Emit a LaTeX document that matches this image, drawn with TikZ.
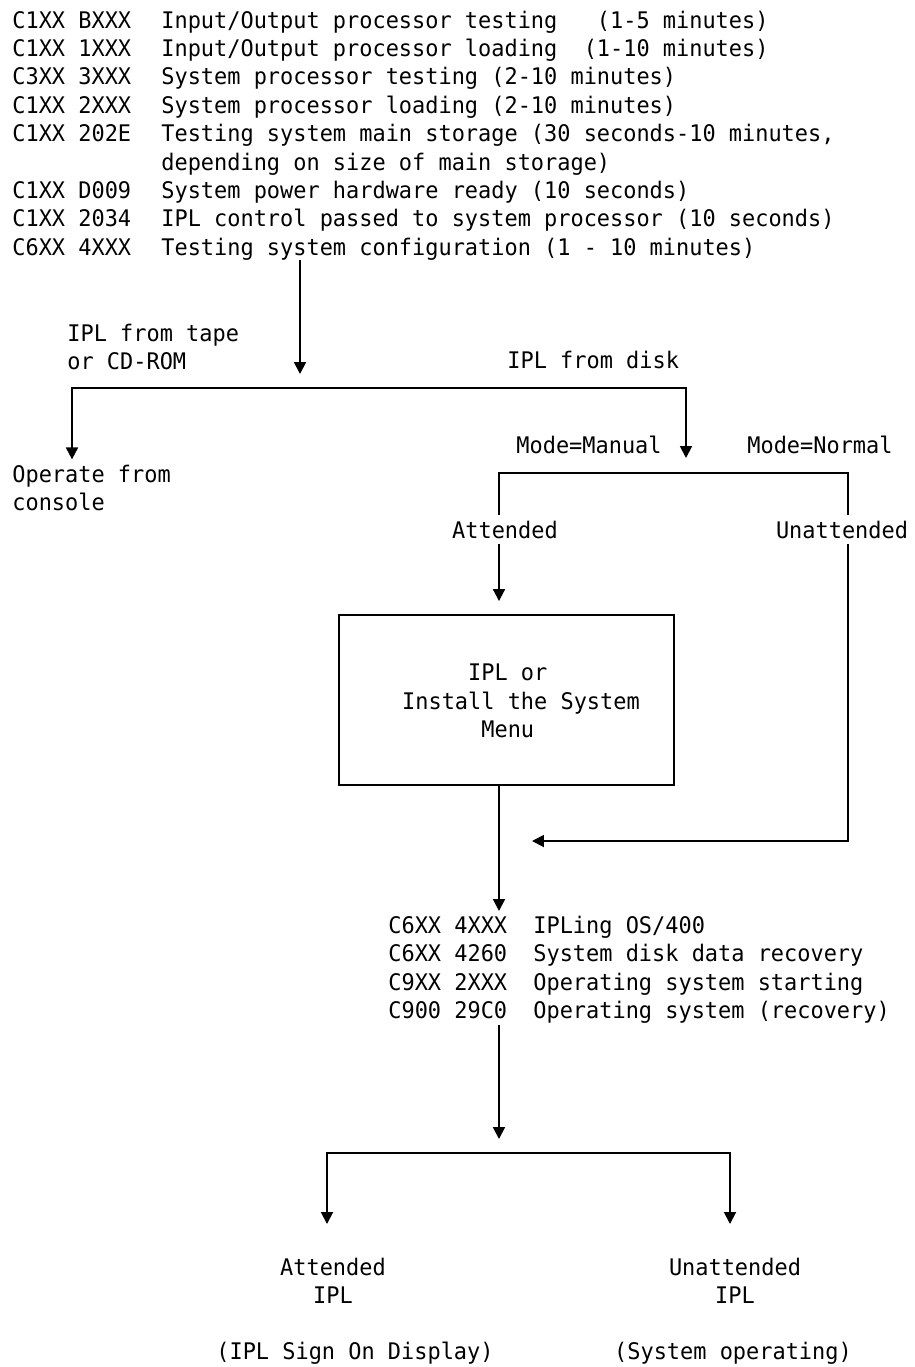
\documentclass[tikz,border=0pt]{standalone}
\usepackage{fontspec}
\newfontfamily\ibmmono[FakeStretch=0.96]{DejaVu Sans Mono}
\usetikzlibrary{arrows.meta}

\tikzset{
  lbl/.style={font=\ibmmono\fontsize{13pt}{16.1pt}\selectfont, inner sep=0pt},
  wire/.style={line width=1.1pt},
  arr/.style={wire, -{Triangle[length=6.8pt,width=6.8pt]}},
  fork/.style={wire, {Triangle[length=6.8pt,width=6.8pt]}-{Triangle[length=6.8pt,width=6.8pt]}},
}

\begin{document}
\begin{tikzpicture}[x=0.02cm,y=-0.02cm]
\fill[white] (0,0) rectangle (914,1367);
\useasboundingbox (0,0) rectangle (914,1367);

% power-on reference codes
\foreach \row/\code/\what in {
  0/C1XX BXXX/{Input/Output processor testing~~~(1-5 minutes)},
  1/C1XX 1XXX/{Input/Output processor loading~~(1-10 minutes)},
  2/C3XX 3XXX/{System processor testing (2-10 minutes)},
  3/C1XX 2XXX/{System processor loading (2-10 minutes)},
  4/C1XX 202E/{Testing system main storage (30 seconds-10 minutes,},
  6/C1XX D009/{System power hardware ready (10 seconds)},
  7/C1XX 2034/{IPL control passed to system processor (10 seconds)},
  8/C6XX 4XXX/{Testing system configuration (1 - 10 minutes)}}{
  \node[lbl,anchor=base west] (code\row) at (12,28+28.4*\row) {\code};
  \node[lbl,anchor=base west] (desc\row) at (161,28+28.4*\row) {\what};
}
\node[lbl,anchor=base west] (desc5) at (161,28+28.4*5) {depending on size of main storage)};

\node[lbl,align=left,anchor=west] (tape) at (67,347) {IPL from tape\\or CD-ROM};
\node[lbl,anchor=base west] (disk) at (507,368) {IPL from disk};
\node[lbl,align=left,anchor=west] (operate) at (12,488) {Operate from\\console};
\node[lbl,anchor=base east] (manual) at (662,453) {Mode=Manual};
\node[lbl,anchor=base west] (normal) at (747,453) {Mode=Normal};
\node[lbl,anchor=base,inner sep=3pt] (att) at (505,538) {Attended};
\node[lbl,anchor=base,inner sep=3pt] (unatt) at (842,538) {Unattended};

\node[draw,wire,minimum width=6.7cm,minimum height=3.4cm] (menu) at (506.5,700) {};
\node[lbl,align=left] (menutext) at (521,701) {~~~~~IPL or\\Install the System\\~~~~~~Menu};

% operating system codes
\foreach \row/\code/\what in {
  0/C6XX 4XXX/{IPLing OS/400},
  1/C6XX 4260/{System disk data recovery},
  2/C9XX 2XXX/{Operating system starting},
  3/C900 29C0/{Operating system (recovery)}}{
  \node[lbl,anchor=base west] (oscode\row) at (388,933+28.6*\row) {\code};
  \node[lbl,anchor=base west] (osdesc\row) at (533,933+28.6*\row) {\what};
}

\node[lbl,align=center] (attipl) at (333,1281) {Attended\\IPL};
\node[lbl,align=center] (unattipl) at (735,1281) {Unattended\\IPL};
\node[lbl,anchor=base] (signon) at (355,1359) {(IPL Sign On Display)};
\node[lbl,anchor=base] (sysop) at (733,1359) {(System operating)};

\coordinate (cfgtip) at (300,374);
\coordinate (forkL) at (72,388);
\coordinate (forkR) at (686,388);
\coordinate (mantip) at (686,458);
\coordinate (modeL) at (499,473);
\coordinate (modeR) at (848,473);
\coordinate (jointip) at (532,841);
\coordinate (ostip) at (499,911);
\coordinate (osout) at (499,1025);
\coordinate (ipltip) at (499,1139);
\coordinate (endL) at (327,1153);
\coordinate (endR) at (730,1153);
\coordinate (attend) at (327,1224);
\coordinate (unattend) at (730,1224);

\draw[arr] (desc8.south -| cfgtip) -- (cfgtip);
\draw[fork,shorten >=3pt] (mantip) -- (forkR) -- (forkL) -- (forkL |- operate.north);

\draw[wire] (att.north -| modeL) -- (modeL) -- (modeR) -- (unatt.north -| modeR);
\draw[arr,shorten >=7.4pt] (att.south -| modeL) -- (menu.north -| modeL);
\draw[arr] (unatt.south -| modeR) |- (jointip);
\draw[arr] (menu.south -| modeL) -- (ostip);

\draw[arr] (osout) -- (ipltip);
\draw[fork] (attend) -- (endL) -- (endR) -- (unattend);

\end{tikzpicture}
\end{document}
